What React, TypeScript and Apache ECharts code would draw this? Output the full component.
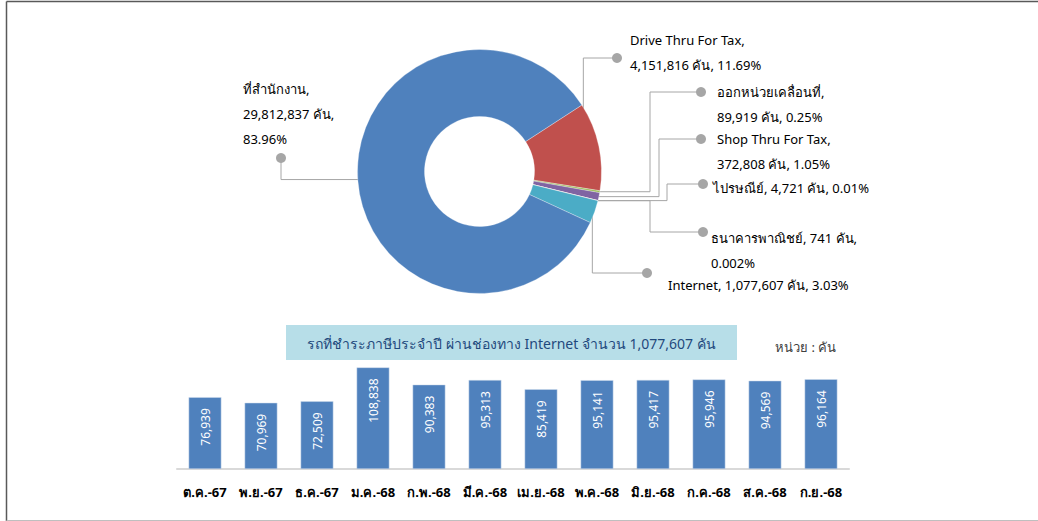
import React, { useEffect, useRef } from 'react';
import * as echarts from 'echarts';

// ---------- DATA ----------
const channelNames = [
  'Drive Thru For Tax',
  'ออกหน่วยเคลื่อนที่',
  'Shop Thru For Tax',
  'ไปรษณีย์',
  'ธนาคารพาณิชย์',
  'Internet',
  'ที่สำนักงาน',
];
const channelValues = [4151816, 89919, 372808, 4721, 741, 1077607, 29812837];
const channelPercents = ['11.69%', '0.25%', '1.05%', '0.01%', '0.002%', '3.03%', '83.96%'];

const months = [
  'ต.ค.-67', 'พ.ย.-67', 'ธ.ค.-67', 'ม.ค.-68', 'ก.พ.-68', 'มี.ค.-68',
  'เม.ย.-68', 'พ.ค.-68', 'มิ.ย.-68', 'ก.ค.-68', 'ส.ค.-68', 'ก.ย.-68',
];
const internetValues = [76939, 70969, 72509, 108838, 90383, 95313, 85419, 95141, 95417, 95946, 94569, 96164];

const barTitle = 'รถที่ชำระภาษีประจำปี ผ่านช่องทาง Internet จำนวน 1,077,607 คัน';
const unitText = 'หน่วย : คัน';

// ---------- STYLE / LAYOUT ----------
const FONT = 'Tahoma, "Noto Sans", "DejaVu Sans", sans-serif';
const sliceColors = ['#C0504D', '#9BBB59', '#8064A2', '#F79646', '#2C4D75', '#4BACC6', '#4F81BD'];
const PIE_CX = 479.5;
const PIE_CY = 171.5;
// label line-break style per slice: separators after name and after value
const labelSeps = [
  ['\n', ' '], ['\n', ' '], ['\n', ' '], [' ', ' '], [' ', '\n'], [' ', ' '], ['\n', '\n'],
];
// label placement per slice
const labelPlaces = [
  { x: 630, y: 27.5, dotX: 617, dotY: 58, route: 'vh', k: 0.87, elbowX: 0 },
  { x: 717, y: 79, dotX: 701, dotY: 92, route: 'hv', k: 1, elbowX: 650 },
  { x: 717, y: 126.5, dotX: 701, dotY: 139, route: 'hv', k: 1, elbowX: 659 },
  { x: 713, y: 175.5, dotX: 703, dotY: 184, route: 'hv', k: 1, elbowX: 667 },
  { x: 711, y: 225.5, dotX: 703, dotY: 232, route: 'hv', k: 1, elbowX: 650 },
  { x: 668, y: 272.5, dotX: 647, dotY: 273, route: 'vh', k: 0.98, elbowX: 0 },
  { x: 243, y: 76.8, dotX: 281, dotY: 158, route: 'hv', k: 0.92, elbowX: 281 },
];

const fmt = (v: number) => v.toLocaleString('en-US');

export default function App() {
  const ref = useRef<HTMLDivElement>(null);
  useEffect(() => {
    if (!ref.current) return;
    const chart = echarts.init(ref.current, undefined, { renderer: 'svg' });

    const dots = labelPlaces.map((p) => ({
      type: 'circle',
      z: 100,
      shape: { cx: p.dotX, cy: p.dotY, r: 5 },
      style: { fill: '#A6A6A6' },
    }));

    const option: any = {
      animation: false,
      textStyle: { fontFamily: FONT },
      graphic: [
        { type: 'line', shape: { x1: 6.5, y1: 1.5, x2: 1038, y2: 1.5 }, style: { stroke: '#595959', lineWidth: 1.5 } },
        { type: 'line', shape: { x1: 6.5, y1: 1.5, x2: 6.5, y2: 521 }, style: { stroke: '#595959', lineWidth: 1.5 } },
        { type: 'line', shape: { x1: 6.5, y1: 520.5, x2: 1038, y2: 520.5 }, style: { stroke: '#BFBFBF', lineWidth: 1 } },
        { type: 'rect', shape: { x: 286, y: 325, width: 451, height: 35 }, style: { fill: '#B7DEE8' } },
        {
          type: 'text', x: 511.5, y: 343,
          style: { text: barTitle, fill: '#1F497D', font: `14px ${FONT}`, align: 'center', verticalAlign: 'middle' },
        },
        {
          type: 'text', x: 775, y: 347,
          style: { text: unitText, fill: '#404040', font: `13px ${FONT}`, align: 'left', verticalAlign: 'middle' },
        },
        ...dots,
      ],
      grid: { left: 177, right: 189, top: 357, bottom: 52 },
      xAxis: {
        type: 'category',
        data: months,
        axisLine: { lineStyle: { color: '#D9D9D9', width: 2 } },
        axisTick: { show: false },
        axisLabel: { interval: 0, color: '#000', fontWeight: 'bold', fontSize: 13, margin: 16, fontFamily: FONT },
      },
      yAxis: { type: 'value', min: 0, max: 120000, show: false, splitLine: { show: false } },
      series: [
        {
          type: 'bar',
          data: internetValues,
          barCategoryGap: '41.5%',
          itemStyle: { color: '#4F81BD', borderColor: '#D0DCEC', borderWidth: 0.5 },
          label: {
            show: true,
            position: 'insideTop',
            rotate: 90,
            align: 'right',
            verticalAlign: 'middle',
            distance: 11,
            color: '#fff',
            fontSize: 12,
            fontFamily: FONT,
            formatter: (p: any) => fmt(p.value),
          },
        },
        {
          type: 'pie',
          center: [PIE_CX, PIE_CY],
          radius: [55, 122],
          startAngle: 33,
          clockwise: true,
          avoidLabelOverlap: false,
          itemStyle: { borderColor: '#fff', borderWidth: 0.3 },
          data: channelNames.map((n, i) => ({ name: n, value: channelValues[i], itemStyle: { color: sliceColors[i] } })),
          label: {
            show: true,
            position: 'outside',
            color: '#000',
            fontSize: 13,
            lineHeight: 25,
            fontFamily: FONT,
            formatter: (p: any) => {
              const s = labelSeps[p.dataIndex];
              return `${p.name},${s[0]}${fmt(p.value)} คัน,${s[1]}${channelPercents[p.dataIndex]}`;
            },
          },
          labelLine: { show: true, lineStyle: { color: '#A6A6A6', width: 1 } },
          labelLayout: (params: any) => {
            const pl = labelPlaces[params.dataIndex];
            const p0 = params.labelLinePoints ? params.labelLinePoints[0] : [PIE_CX, PIE_CY];
            const sx = PIE_CX + (p0[0] - PIE_CX) * pl.k;
            const sy = PIE_CY + (p0[1] - PIE_CY) * pl.k;
            let pts: number[][];
            if (pl.route === 'vh') {
              pts = [[sx, sy], [sx, pl.dotY], [pl.dotX, pl.dotY]];
            } else {
              pts = [[sx, sy], [pl.elbowX, sy], [pl.elbowX, pl.dotY], [pl.dotX, pl.dotY]];
            }
            return { x: pl.x, y: pl.y, align: 'left', verticalAlign: 'top', labelLinePoints: pts };
          },
          emphasis: { disabled: true },
        },
      ],
    };
    chart.setOption(option);
    return () => chart.dispose();
  }, []);
  return <div ref={ref} style={{ position: 'absolute', left: 0, top: 0, width: 1038, height: 521 }} />;
}
